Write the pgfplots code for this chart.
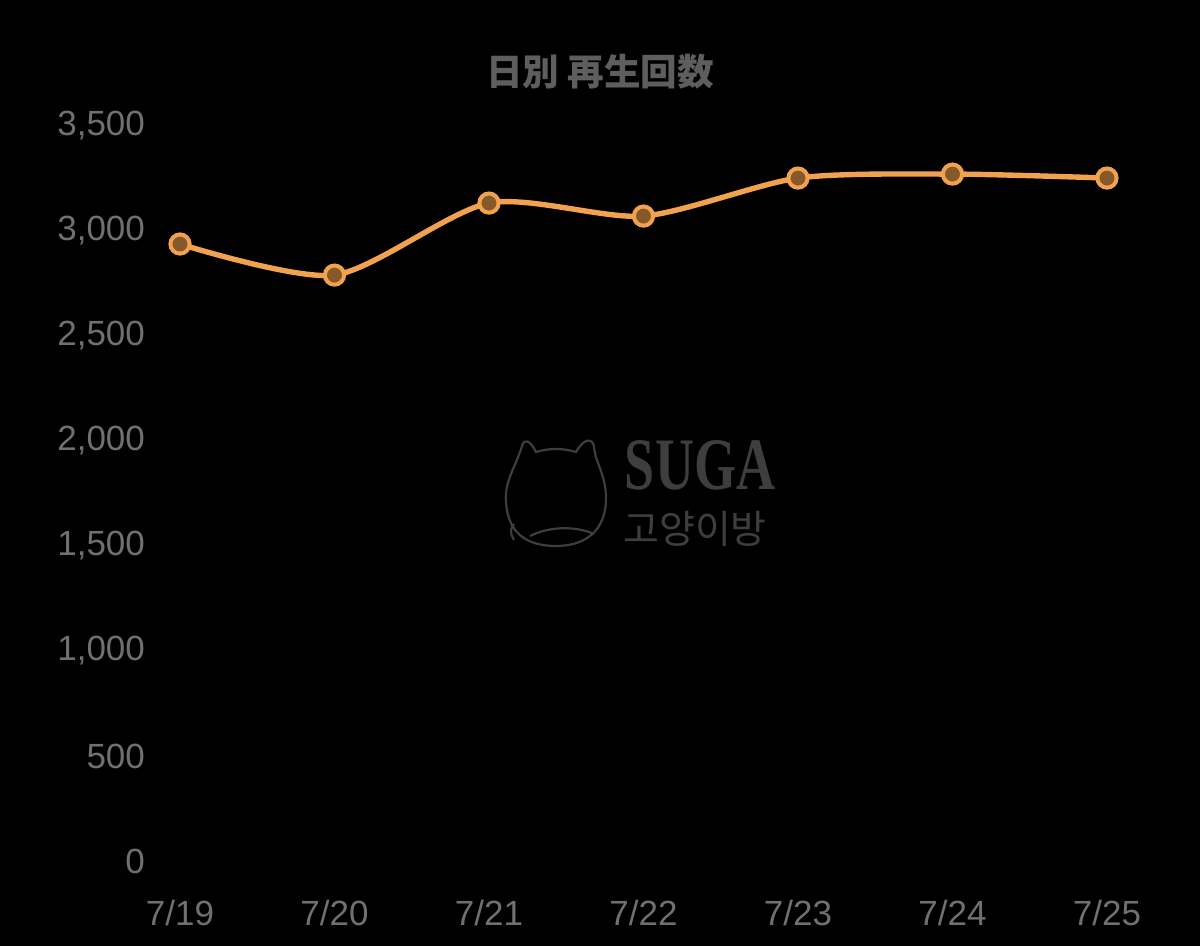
\documentclass[border=0pt]{standalone}
\usepackage{fontspec}
\setmainfont{Liberation Sans}
\newfontfamily\cjk{Noto Sans CJK JP}
\newfontfamily\kr{Noto Sans CJK KR}
\newfontfamily\wserif{Liberation Serif}
\usepackage{pgfplots}
\pgfplotsset{compat=1.18}
\definecolor{tickgray}{HTML}{707070}
\definecolor{titlegray}{HTML}{5E5E5E}
\definecolor{wmgray}{HTML}{3E3E3E}
\definecolor{lineorange}{HTML}{F2A14E}
\definecolor{markbrown}{HTML}{86582A}
\begin{document}
\begin{tikzpicture}
\useasboundingbox (0,0) rectangle (600pt,473pt);
\fill[black] (0,0) rectangle (600pt,473pt);
% title
\node[text=titlegray, font=\cjk\bfseries\fontsize{18.3}{21}\selectfont] at (300pt,437pt) {日別 再生回数};
% watermark
\begin{scope}[draw=wmgray, line width=1.1pt]
  \draw (261pt,250pt) .. controls (258pt,240pt) and (252pt,232pt) .. (253pt,222pt)
        .. controls (254pt,205pt) and (265pt,200pt) .. (278pt,200pt)
        .. controls (292pt,200pt) and (303pt,207pt) .. (303pt,224pt)
        .. controls (303pt,236pt) and (297pt,243pt) .. (297pt,250pt)
        .. controls (296pt,254pt) and (292pt,254pt) .. (288pt,247pt)
        .. controls (281pt,249pt) and (275pt,249pt) .. (268pt,247pt)
        .. controls (265pt,253pt) and (262pt,254pt) .. cycle;
  \draw (265pt,205pt) .. controls (275pt,210pt) and (288pt,210pt) .. (297pt,206pt);
  \draw (257pt,203pt) .. controls (255pt,206pt) and (255pt,209pt) .. (257pt,211pt);
\end{scope}
\node[text=wmgray, inner sep=0pt, anchor=base, font=\wserif\bfseries\fontsize{37}{40}\selectfont, xscale=0.73] at (350pt,228pt) {SUGA};
\node[text=wmgray, inner sep=0pt, anchor=base, text height=14pt, text depth=0pt, font=\kr\fontsize{19.5}{22}\selectfont] at (347.5pt,201pt) {고양이방};
\begin{axis}[
  at={(90pt,42.5pt)}, anchor=south west,
  scale only axis, width=463.5pt, height=367.5pt,
  xmin=0, xmax=6, ymin=0, ymax=3500,
  axis line style={draw=none}, tick style={draw=none},
  xtick={0,...,6},
  xticklabels={7/19,7/20,7/21,7/22,7/23,7/24,7/25},
  ytick={0,500,...,3500},
  /pgf/number format/assume math mode=true,
  /pgf/number format/1000 sep={,},
  ticklabel style={text=tickgray, font=\fontsize{17.5}{19}\selectfont},
  yticklabel style={anchor=east, xshift=-14pt},
  xticklabel style={anchor=north, yshift=-16pt},
  clip=false,
]
\addplot[lineorange, line width=2.7pt, smooth, tension=0.45,
  mark=*, mark size=4.8pt,
  mark options={draw=lineorange, fill=markbrown, line width=2pt}]
  coordinates {(0,2938) (1,2790) (2,3133) (3,3071) (4,3252) (5,3271) (6,3252)};
\end{axis}
\end{tikzpicture}
\end{document}
